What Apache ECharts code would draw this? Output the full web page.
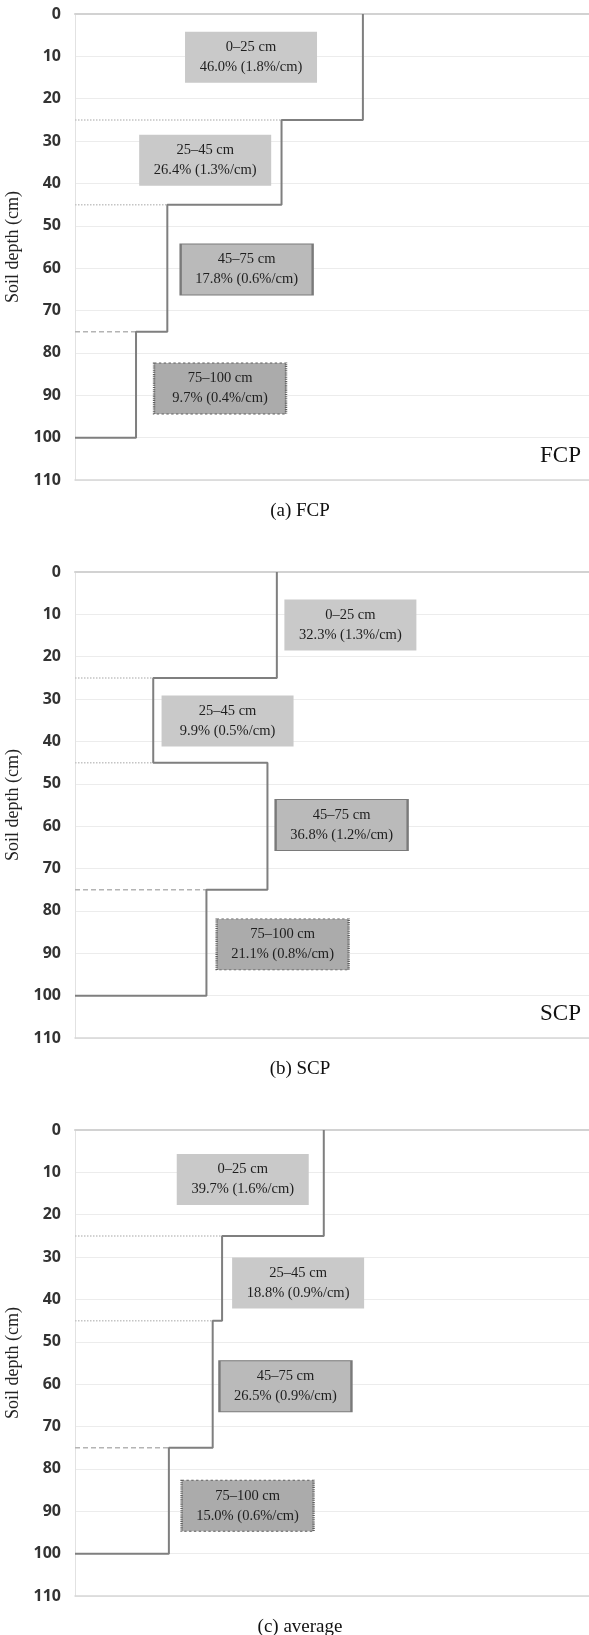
<!DOCTYPE html>
<html><head><meta charset="utf-8">
<script src="https://cdn.jsdelivr.net/npm/echarts@6.0.0/dist/echarts.min.js"></script>
<style>html,body{margin:0;padding:0;background:#fff}#c{width:589px;height:1635px}</style>
</head><body><div id="c"></div>
<script>
// ---- data ----
const depthBounds = [0, 25, 45, 75, 100];
const layerNames = ['0–25 cm', '25–45 cm', '45–75 cm', '75–100 cm'];
const fcpShare = [46.0, 26.4, 17.8, 9.7];
const fcpRate = [1.8, 1.3, 0.6, 0.4];
const fcpLine = [1.84, 1.32, 0.59, 0.39];
const scpShare = [32.3, 9.9, 36.8, 21.1];
const scpRate = [1.3, 0.5, 1.2, 0.8];
const scpLine = [1.29, 0.50, 1.23, 0.84];
const avgShare = [39.7, 18.8, 26.5, 15.0];
const avgRate = [1.6, 0.9, 0.9, 0.6];
const avgLine = [1.59, 0.94, 0.88, 0.60];
const depthMin = 0, depthMax = 110, depthStep = 10;
const panelTags = ['FCP', 'SCP', ''];
const panelCaptions = ['(a) FCP', '(b) SCP', '(c) average'];

// ---- layout (not data) ----
const GRID_TOP = [14, 572, 1130];
const GRID_H = 466, GRID_LEFT = 75, GRID_W = 514, X_MAX = 3.285;
const boxPos = [
  [[1.125, 10.2], [0.832, 34.5], [1.097, 60.3], [0.927, 88.4]],
  [[1.760, 12.5], [0.975, 35.2], [1.704, 59.7], [1.327, 87.9]],
  [[1.072, 11.7], [1.426, 36.1], [1.345, 60.5], [1.103, 88.7]]
];
const boxStyles = [
  {color: '#c9c9c9', borderWidth: 0},
  {color: '#c9c9c9', borderWidth: 0},
  {color: '#bababa', borderColor: '#7a7a7a', borderWidth: 1.5, borderType: 'solid'},
  {color: '#ababab', borderColor: '#5e5e5e', borderWidth: 1.5, borderType: 'dotted'}
];
const SERIF = '"Liberation Serif", "DejaVu Serif", serif';

const panels = [
  {share: fcpShare, rate: fcpRate, line: fcpLine},
  {share: scpShare, rate: scpRate, line: scpLine},
  {share: avgShare, rate: avgRate, line: avgLine}
];

const grid = [], xAxis = [], yAxis = [], series = [], graphic = [];
panels.forEach((p, i) => {
  grid.push({left: GRID_LEFT, top: GRID_TOP[i], width: GRID_W, height: GRID_H, containLabel: false, outerBoundsMode: 'none'});
  const xBase = {gridIndex: i, type: 'value', min: 0, max: X_MAX,
    axisLabel: {show: false}, axisTick: {show: false}, splitLine: {show: false}};
  xAxis.push(Object.assign({}, xBase, {position: 'top',
    axisLine: {show: true, onZero: false, lineStyle: {color: '#d2d2d2', width: 2}}}));
  xAxis.push(Object.assign({}, xBase, {position: 'bottom',
    axisLine: {show: true, onZero: false, lineStyle: {color: '#d6d6d6', width: 1.5}}}));
  yAxis.push({gridIndex: i, type: 'value', inverse: true, min: depthMin, max: depthMax, interval: depthStep,
    name: 'Soil depth (cm)', nameLocation: 'middle', nameGap: 48,
    nameTextStyle: {fontFamily: SERIF, fontSize: 18, color: '#222'},
    axisLine: {show: true, onZero: false, lineStyle: {color: '#e2e2e2', width: 1}},
    axisTick: {show: false},
    axisLabel: {fontFamily: '"Noto Sans", sans-serif', fontSize: 16, fontWeight: 'bold', color: '#333', margin: 14},
    splitLine: {show: true, lineStyle: {color: '#ececec', width: 1}}});

  // boundary reference lines
  for (let k = 1; k < p.line.length; k++) {
    const d = depthBounds[k];
    const xe = Math.min(p.line[k - 1], p.line[k]);
    series.push({type: 'line', xAxisIndex: 2 * i, yAxisIndex: i, silent: true, symbol: 'none',
      animation: false, z: 2,
      lineStyle: k < 3 ? {color: '#c4c4c4', width: 1.5, type: [1.5, 1.5]} : {color: '#b4b4b4', width: 1.5, type: [5, 3]},
      data: [[0, d], [xe, d]]});
  }

  // step profile
  const pts = [];
  p.line.forEach((v, k) => { pts.push([v, depthBounds[k]]); pts.push([v, depthBounds[k + 1]]); });
  pts.push([0, depthBounds[depthBounds.length - 1]]);
  series.push({type: 'line', xAxisIndex: 2 * i, yAxisIndex: i, symbol: 'none', animation: false, z: 3,
    lineStyle: {color: '#7f7f7f', width: 2}, data: pts,
    markPoint: {symbol: 'rect', symbolSize: [132, 51], animation: false, silent: true, z: 5,
      data: layerNames.map((nm, k) => ({
        coord: boxPos[i][k],
        itemStyle: boxStyles[k],
        label: {show: true, position: 'inside', fontFamily: SERIF, fontSize: 14.5, color: '#1e1e1e', lineHeight: 20,
          formatter: nm + '\n' + p.share[k].toFixed(1) + '% (' + p.rate[k].toFixed(1) + '%/cm)'}
      }))}});

  if (panelTags[i]) {
    graphic.push({type: 'text', left: 540, top: GRID_TOP[i] + 430, silent: true,
      style: {text: panelTags[i], font: '23px ' + SERIF, fill: '#111'}});
  }
  graphic.push({type: 'text', x: 300, y: GRID_TOP[i] + GRID_H + 31, silent: true,
    style: {text: panelCaptions[i], font: '19px ' + SERIF, fill: '#111', align: 'center', verticalAlign: 'middle'}});
});

const chart = echarts.init(document.getElementById('c'), null, {renderer: 'canvas'});
chart.setOption({animation: false, backgroundColor: '#fff', grid, xAxis, yAxis, series, graphic});
</script></body></html>
